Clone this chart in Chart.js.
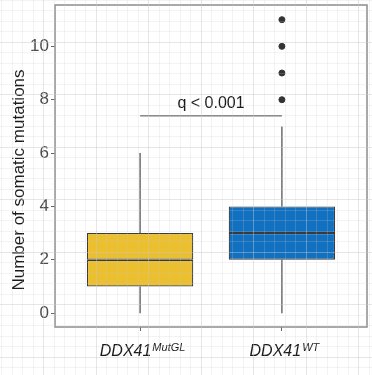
<!DOCTYPE html>
<html>
<head>
<meta charset="utf-8">
<script src="https://cdn.jsdelivr.net/npm/chart.js@4/dist/chart.umd.min.js"></script>
<style>
  body { margin: 0; background: #fff; }
  canvas { display: block; }
</style>
</head>
<body>
<canvas id="chart" width="372" height="375"></canvas>
<script>
// box stats per group
const groupNames = ["DDX41", "DDX41"];
const groupSups = ["MutGL", "WT"];
const whiskerLow = [0, 0];
const q1 = [1, 2];
const median = [2, 3];
const q3 = [3, 4];
const whiskerHigh = [6, 7];
const outlierGroup = [2, 2, 2, 2];
const outlierValues = [8, 9, 10, 11];
const yTicks = [0, 2, 4, 6, 8, 10];
const yTitle = "Number of somatic mutations";
const sigLabel = "q < 0.001";
const sigY = 7.4;

const boxColors = ["#EBBF2E", "#1170C0"];
const FONT = "'Liberation Sans', Arial, sans-serif";

const xs = groupNames.map((_, i) => i + 1);

// whiskers as line segments separated by gaps
const whiskerData = [];
xs.forEach((x, i) => {
  whiskerData.push({ x, y: q3[i] }, { x, y: whiskerHigh[i] }, { x, y: null });
  whiskerData.push({ x, y: whiskerLow[i] }, { x, y: q1[i] }, { x, y: null });
});

const boxBorder = "#3a3a3a";

// text + frame drawn on top of the datasets
const decorPlugin = {
  id: "decor",
  afterDatasetsDraw(chart) {
    const { ctx, chartArea, scales } = chart;
    ctx.save();
    // panel border
    ctx.strokeStyle = "#8c8c8c";
    ctx.lineWidth = 1.5;
    ctx.strokeRect(chartArea.left, chartArea.top, chartArea.right - chartArea.left, chartArea.bottom - chartArea.top);

    // q label above the bracket
    ctx.fillStyle = "#1a1a1a";
    ctx.font = "16px " + FONT;
    ctx.textAlign = "center";
    ctx.textBaseline = "alphabetic";
    ctx.fillText(sigLabel, scales.x.getPixelForValue(1.5), scales.y.getPixelForValue(sigY) - 8);

    // y title, sits a bit below the panel centre in the original
    ctx.save();
    ctx.translate(24, 180);
    ctx.rotate(-Math.PI / 2);
    ctx.font = "17px " + FONT;
    ctx.fillText(yTitle, 0, 0);
    ctx.restore();

    // x labels with superscripts
    xs.forEach((x, i) => {
      const cx = scales.x.getPixelForValue(x);
      ctx.font = "italic 16px " + FONT;
      const w1 = ctx.measureText(groupNames[i]).width;
      ctx.font = "italic 11px " + FONT;
      const w2 = ctx.measureText(groupSups[i]).width;
      const start = cx - (w1 + w2) / 2 + 2;
      ctx.textAlign = "left";
      ctx.font = "italic 16px " + FONT;
      ctx.fillText(groupNames[i], start, 356);
      ctx.font = "italic 11px " + FONT;
      ctx.fillText(groupSups[i], start + w1 + 1, 351);
    });
    ctx.restore();
  },
  afterDraw(chart) {
    // faint graph-paper overlay across the whole picture
    const { ctx, width, height } = chart;
    ctx.save();
    ctx.lineWidth = 1;
    const step = 10.5;
    for (let k = 0; k * step < width + step; k++) {
      const x = Math.round(1 + k * step) + 0.5;
      ctx.strokeStyle = (k % 5 === 4) ? "rgba(200,200,200,0.45)" : "rgba(200,200,200,0.22)";
      ctx.beginPath(); ctx.moveTo(x, 0); ctx.lineTo(x, height); ctx.stroke();
    }
    for (let k = 0; k * step < height + step; k++) {
      const y = Math.round(-0.3 + k * step) + 0.5;
      ctx.strokeStyle = (k % 5 === 4) ? "rgba(200,200,200,0.45)" : "rgba(200,200,200,0.22)";
      ctx.beginPath(); ctx.moveTo(0, y); ctx.lineTo(width, y); ctx.stroke();
    }
    ctx.restore();
  }
};

new Chart(document.getElementById("chart"), {
  type: "bar",
  data: {
    datasets: [
      {
        // lower half of the box: q1 -> median
        data: xs.map((x, i) => ({ x, y: [q1[i], median[i]] })),
        backgroundColor: boxColors,
        borderColor: boxBorder,
        borderWidth: 1.2,
        borderSkipped: false,
        barPercentage: 0.75,
        categoryPercentage: 1,
        order: 2
      },
      {
        // upper half: median -> q3
        data: xs.map((x, i) => ({ x, y: [median[i], q3[i]] })),
        backgroundColor: boxColors,
        borderColor: boxBorder,
        borderWidth: 1.2,
        borderSkipped: false,
        barPercentage: 0.75,
        categoryPercentage: 1,
        order: 2
      },
      {
        type: "line",
        data: whiskerData,
        borderColor: "#4a4a4a",
        borderWidth: 1.2,
        pointRadius: 0,
        spanGaps: false,
        order: 3
      },
      {
        type: "scatter",
        data: outlierValues.map((v, i) => ({ x: outlierGroup[i], y: v })),
        backgroundColor: "#333333",
        borderColor: "#333333",
        pointRadius: 3,
        order: 1
      },
      {
        type: "line",
        data: [{ x: 1, y: sigY }, { x: 2, y: sigY }],
        borderColor: "#7a7a7a",
        borderWidth: 1.5,
        pointRadius: 0,
        order: 1
      }
    ]
  },
  options: {
    responsive: false,
    animation: false,
    devicePixelRatio: 1,
    layout: { padding: { top: 5, right: 1, left: 0, bottom: 0 } },
    plugins: { legend: { display: false }, tooltip: { enabled: false } },
    scales: {
      x: {
        type: "linear",
        min: 0.4,
        max: 2.6,
        offset: false,
        stacked: true,
        afterBuildTicks: s => { s.ticks = xs.map(v => ({ value: v })); },
        afterFit: s => { s.height = 48; s.paddingLeft = 0; s.paddingRight = 0; },
        grid: { offset: false, drawOnChartArea: false, drawTicks: true, tickLength: 4, color: "#666" },
        border: { display: false },
        ticks: { display: false }
      },
      y: {
        min: -0.52,
        max: 11.55,
        afterBuildTicks: s => { s.ticks = yTicks.map(v => ({ value: v })); },
        afterFit: s => { s.width = 55; s.paddingTop = 0; s.paddingBottom = 0; },
        grid: { drawOnChartArea: false, drawTicks: true, tickLength: 4, color: "#666" },
        border: { display: false },
        ticks: { font: { family: FONT, size: 17 }, color: "#4d4d4d", padding: 2 }
      }
    }
  },
  plugins: [decorPlugin]
});
</script>
</body>
</html>
